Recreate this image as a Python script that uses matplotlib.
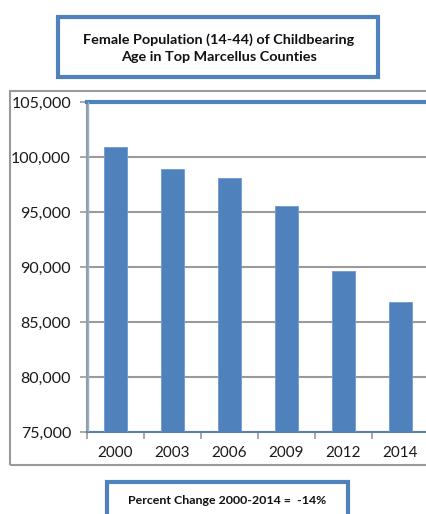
import matplotlib
matplotlib.use("Agg")
import matplotlib.pyplot as plt
from matplotlib.patches import Rectangle
from matplotlib.ticker import FuncFormatter, FixedLocator

years = ["2000", "2003", "2006", "2009", "2012", "2014"]
population = [100950, 98900, 98050, 95550, 89600, 86850]
y_ticks = [75000, 80000, 85000, 90000, 95000, 100000, 105000]

BLUE = "#4F81BD"
GRAY = "#9A9A9A"
W, H = 426, 514

plt.rcParams["font.family"] = ["Lato", "DejaVu Sans"]

fig = plt.figure(figsize=(W / 100, H / 100), dpi=100)


def fx(px):
    return px / W


def fy(py):
    return 1 - py / H


# outer chart frame (right edge runs off the canvas)
fig.patches.append(Rectangle((fx(10), fy(465)), fx(440 - 10), (465 - 91) / H,
                             transform=fig.transFigure, fill=False,
                             edgecolor=GRAY, lw=1.5))

ax = fig.add_axes([fx(87), fy(432), fx(429 - 87), (432 - 102) / H])
x = list(range(len(years)))
ax.bar(x, population, width=0.4, color=BLUE, edgecolor="#6F9AD0", lw=0.6, zorder=3)
ax.set_xlim(-0.5, len(years) - 0.5)
ax.set_ylim(y_ticks[0], y_ticks[-1])
ax.set_yticks(y_ticks)
ax.yaxis.set_major_formatter(FuncFormatter(lambda v, p: f"{int(v):,}"))
ax.grid(axis="y", color=GRAY, lw=1.5, zorder=0)
ax.set_xticks(x)
ax.set_xticklabels(years)
ax.xaxis.set_minor_locator(FixedLocator([i - 0.5 for i in range(len(years) + 1)]))
ax.tick_params(axis="x", which="major", length=0, labelsize=11, pad=10)
ax.tick_params(axis="x", which="minor", length=5, width=1.2, color=GRAY)
ax.tick_params(axis="y", length=5, width=1.2, color=GRAY, labelsize=11.5, pad=6.5)
for lab in ax.get_xticklabels() + ax.get_yticklabels():
    lab.set_color("#1A1A1A")
ax.spines["top"].set_color(BLUE)
ax.spines["top"].set_linewidth(3)
ax.spines["right"].set_visible(False)
ax.spines["left"].set_color(GRAY)
ax.spines["left"].set_linewidth(1.5)
ax.spines["bottom"].set_color("#5C7FA8")
ax.spines["bottom"].set_linewidth(1.5)
ax.axvline(-0.5 + 0.012, color="#8DB0DC", lw=1, zorder=4)

# title box
fig.patches.append(Rectangle((fx(58), fy(77)), fx(378 - 58), (77 - 17) / H,
                             transform=fig.transFigure, fill=False,
                             edgecolor=BLUE, lw=3))
fig.text(fx(219), fy(48), "Female Population (14-44) of Childbearing\nAge in Top Marcellus Counties",
         ha="center", va="center", fontsize=10.4, fontweight="bold",
         linespacing=1.55, color="#111111")

# percent change box
fig.patches.append(Rectangle((fx(107), fy(530)), fx(348 - 107), (530 - 482) / H,
                             transform=fig.transFigure, fill=False,
                             edgecolor=BLUE, lw=3))
fig.text(fx(227), fy(501), "Percent Change 2000-2014 =  -14%",
         ha="center", va="center", fontsize=8.9, fontweight="bold", color="#111111")

fig.savefig("out.png", dpi=100)
